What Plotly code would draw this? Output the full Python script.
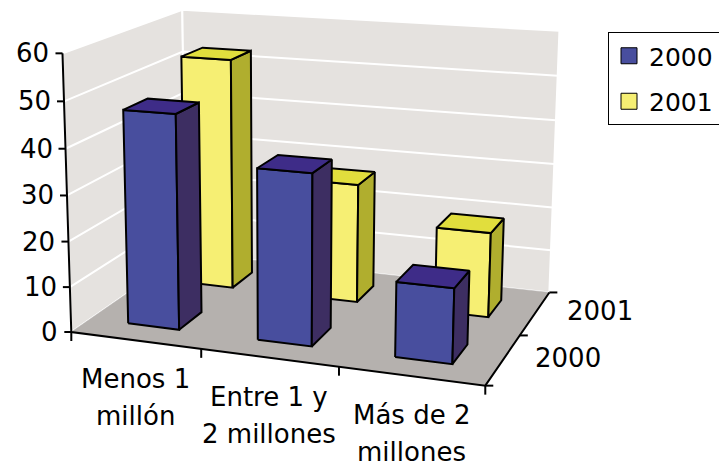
import numpy as np
import plotly.graph_objects as go

# data
categories = ["Menos 1<br>millón", "Entre 1 y<br>2 millones", "Más de 2<br>millones"]
series_names = ["2000", "2001"]
values_2000 = [47, 37, 16]
values_2001 = [53, 27, 19]
value_ticks = [0, 10, 20, 30, 40, 50, 60]

FONT = "DejaVu Sans"
W, H = 727, 466
PAGE_PAD = 8  # the page body margin around the plot div

# colours for each series: front, side, top
palette = {
    "2000": ("#484E9E", "#3D2E62", "#3E2C88"),
    "2001": ("#F6EF73", "#B0AE2E", "#E1DE3D"),
}

# camera: where corners of the chart box land in the picture (world x=category, y=series depth, z=value)
nx, ny, zmax = len(categories), len(series_names), value_ticks[-1]
anchors = [
    ((0, 0, 0), (73, 332)),
    ((nx, 0, 0), (485, 386)),
    ((nx, ny, 0), (550, 292)),
    ((0, ny, 0), (184, 253)),
    ((0, 0, zmax), (61, 53)),
    ((0, ny, zmax), (184, 10)),
    ((nx, ny, zmax), (559, 31)),
]


def fit_camera(pairs):
    A, b = [], []
    for (X, Y, Z), (u, v) in pairs:
        A.append([X, Y, Z, 1, 0, 0, 0, 0, -u * X, -u * Y, -u * Z])
        b.append(u)
        A.append([0, 0, 0, 0, X, Y, Z, 1, -v * X, -v * Y, -v * Z])
        b.append(v)
    p = np.linalg.lstsq(np.array(A, float), np.array(b, float), rcond=None)[0]
    return np.append(p, 1.0).reshape(3, 4)


CAM = fit_camera(anchors)


def proj(pts):
    P = np.hstack([np.array(pts, float), np.ones((len(pts), 1))]) @ CAM.T
    return P[:, 0] / P[:, 2], P[:, 1] / P[:, 2]


def polygon(pts, fill, line_color="black", width=2):
    u, v = proj(pts + [pts[0]])
    return go.Scatter(x=u, y=v, mode="lines", fill="toself", fillcolor=fill,
                      line=dict(color=line_color, width=width),
                      hoverinfo="skip", showlegend=False)


def polyline(pts, color, width):
    u, v = proj(pts)
    return go.Scatter(x=u, y=v, mode="lines", line=dict(color=color, width=width),
                      hoverinfo="skip", showlegend=False)


fig = go.Figure()

# walls and floor
wall = "#E5E2DF"
fig.add_trace(polygon([(0, 0, 0), (0, ny, 0), (0, ny, zmax), (0, 0, zmax)], wall, "white", 2))
fig.add_trace(polygon([(0, ny, 0), (nx, ny, 0), (nx, ny, zmax), (0, ny, zmax)], wall, "white", 2))
fig.add_trace(polygon([(0, 0, 0), (nx, 0, 0), (nx, ny, 0), (0, ny, 0)], "#B5B1AE", "#B5B1AE", 0.5))

# gridlines on the walls
for z in value_ticks[1:-1]:
    fig.add_trace(polyline([(0, 0, z), (0, ny, z), (nx, ny, z)], "white", 2))

# bars, back row first
gap = 0.3
for j in reversed(range(ny)):
    name = series_names[j]
    vals = [values_2000, values_2001][j]
    front, side, top = palette[name]
    y0, y1 = j + gap, j + 1 - gap
    for i, h in enumerate(vals):
        x0, x1 = i + gap, i + 1 - gap
        fig.add_trace(polygon([(x0, y0, 0), (x1, y0, 0), (x1, y0, h), (x0, y0, h)], front))
        fig.add_trace(polygon([(x1, y0, 0), (x1, y1, 0), (x1, y1, h), (x1, y0, h)], side))
        fig.add_trace(polygon([(x0, y0, h), (x1, y0, h), (x1, y1, h), (x0, y1, h)], top))

# axes
fig.add_trace(polyline([(0, 0, zmax), (0, 0, 0), (nx, 0, 0), (nx, ny, 0)], "black", 2))

annotations = []
tick_x, tick_y = [], []
tu, tv = proj([(0, 0, z) for z in value_ticks])
for z, u, v in zip(value_ticks, tu, tv):
    tick_x += [u, u - 7, None]
    tick_y += [v, v, None]
    annotations.append(dict(x=u - 11, y=v, text=str(z), xanchor="right", yanchor="middle"))

cu, cv = proj([(i, 0, 0) for i in range(nx + 1)])
for u, v in zip(cu, cv):
    tick_x += [u, u, None]
    tick_y += [v, v + 9, None]

lu, lv = proj([(i + 0.5, 0, 0) for i in range(nx)])
for label, u, v in zip(categories, lu, lv):
    for k, line in enumerate(label.split("<br>")):
        annotations.append(dict(x=u, y=v + 39 + 37 * k, text=line,
                                xanchor="center", yanchor="middle"))

du, dv = proj([(nx, j, 0) for j in range(ny + 1)])
for u, v in zip(du, dv):
    tick_x += [u, u + 8, None]
    tick_y += [v, v, None]

su, sv = proj([(nx, j + 0.5, 0) for j in range(ny)])
for name, u, v in zip(series_names, su, sv):
    annotations.append(dict(x=u + 30, y=v - 2, text=name, xanchor="left", yanchor="middle"))

fig.add_trace(go.Scatter(x=tick_x, y=tick_y, mode="lines", line=dict(color="black", width=2),
                         hoverinfo="skip", showlegend=False))

# legend entries (an invisible trailing dot widens the box a little)
pad = "<span style='color:rgba(0,0,0,0)'>.</span>"
for name in series_names:
    fig.add_trace(go.Scatter(x=[None], y=[None], mode="markers", name=name + pad, legendgroup=name,
                             marker=dict(symbol="square", size=16, color=palette[name][0],
                                         line=dict(color="black", width=1))))

for a in annotations:
    a.update(xref="x", yref="y", showarrow=False, font=dict(family=FONT, size=26, color="black"))

fig.update_layout(
    width=W, height=H,
    margin=dict(l=0, r=0, t=0, b=0, autoexpand=False),
    paper_bgcolor="white", plot_bgcolor="white",
    # coordinates above are page pixels, so offset the ranges by the page margin
    xaxis=dict(range=[PAGE_PAD, W + PAGE_PAD], visible=False, fixedrange=True),
    yaxis=dict(range=[H + PAGE_PAD, PAGE_PAD], visible=False, fixedrange=True),
    font=dict(family=FONT, size=26, color="black"),
    annotations=annotations,
    showlegend=True,
    legend=dict(x=(608 - PAGE_PAD) / W, y=1 - (32 - PAGE_PAD) / H, xanchor="left", yanchor="top",
                bordercolor="black", borderwidth=1, bgcolor="white",
                tracegroupgap=10, font=dict(family=FONT, size=25)),
)

fig.write_html("out.html")
